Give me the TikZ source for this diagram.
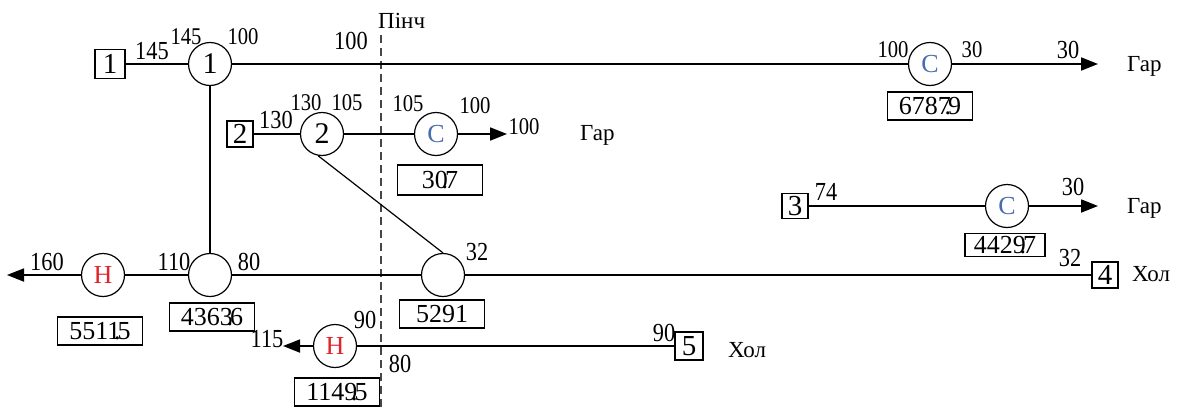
\documentclass[tikz,border=0pt]{standalone}
\usepackage{fontspec}
\setmainfont{Liberation Serif}
\newfontfamily\numfont{Liberation Serif}[FakeStretch=0.86]
\usetikzlibrary{arrows.meta}
\definecolor{cblue}{RGB}{70,110,175}
\definecolor{hred}{RGB}{225,35,45}
\definecolor{dashgray}{RGB}{70,70,70}
\tikzset{
  hx/.style={circle,draw,line width=1.2pt,minimum size=43pt,inner sep=0pt,font=\fontsize{30}{30}\selectfont},
  hxl/.style={hx,font=\fontsize{26}{26}\selectfont},
  sq/.style={draw,line width=1.4pt,minimum width=28pt,minimum height=28pt,inner sep=0pt,font=\fontsize{29}{29}\selectfont},
  val/.style={draw,line width=1.1pt,minimum width=85pt,minimum height=28pt,inner sep=0pt,font=\fontsize{26}{26}\selectfont},
  lbl/.style={inner sep=0pt,font=\numfont\fontsize{26}{26}\selectfont},
  lbs/.style={inner sep=0pt,font=\numfont\fontsize{24}{24}\selectfont},
  word/.style={inner sep=0pt,anchor=base west,font=\fontsize{23}{23}\selectfont},
  stream/.style={line width=1.8pt},
  thin/.style={line width=1.2pt},
  arr/.style={line width=1.8pt,-{Triangle[length=17pt,width=13pt]}}
}
\newcommand{\dt}[2]{#1\kern-0.24em.\kern-0.12em#2}
\begin{document}
\begin{tikzpicture}[x=1pt,y=-1pt]
\useasboundingbox (0,0) rectangle (1182,407);
% pinch line
\coordinate (pt) at (381,35);
\coordinate (pb) at (381,407);
\draw[line width=1.3pt,dashgray,dash pattern=on 8pt off 5pt] (pt) -- (pb);
\node[word] (pinch) at (378,28) {Пінч};
% stream 1
\node[sq,minimum width=30pt,minimum height=29pt] (s1) at (110,64) {1};
\node[hx] (e1) at (210,64) {1};
\node[hxl,text=cblue] (c1) at (930,64) {С};
\coordinate (a1) at (1098,64);
\draw[stream] (s1) -- (e1);
\draw[stream] (e1) -- (c1);
\draw[arr] (c1) -- (a1);
\node[word] (g1) at (1127,71) {Гар};
\node[lbl] (l1a) at (152,51) {145};
\node[lbs] (l1b) at (186,37) {145};
\node[lbs] (l1c) at (243,37) {100};
\node[lbl] (l1d) at (351,41) {100};
\node[lbs] (l1e) at (893,50) {100};
\node[lbs] (l1f) at (972,50) {30};
\node[lbl] (l1g) at (1068,50) {30};
\node[val] (v1) at (930,106) {\dt{6787}{9}};
% stream 2
\node[sq,minimum width=26pt,minimum height=26pt] (s2) at (240,134) {2};
\node[hx] (e2) at (322,134) {2};
\node[hxl,text=cblue] (c2) at (436,134) {С};
\coordinate (a2) at (507,134);
\draw[stream] (s2) -- (e2);
\draw[stream] (e2) -- (c2);
\draw[arr] (c2) -- (a2);
\node[lbl] (l2a) at (276,120) {130};
\node[lbs] (l2b) at (306,103) {130};
\node[lbs] (l2c) at (347,103) {105};
\node[lbs] (l2d) at (408,104) {105};
\node[lbs] (l2e) at (475,106) {100};
\node[lbs] (l2f) at (524,127) {100};
\node[word] (g2) at (580,140) {Гар};
\node[val,minimum height=30pt] (v2) at (440,180) {\dt{30}{7}};
% stream 3
\node[sq,minimum width=26pt,minimum height=25pt] (s3) at (795,206) {3};
\node[hxl,text=cblue] (c3) at (1007,206) {С};
\coordinate (a3) at (1098,206);
\draw[stream] (s3) -- (c3);
\draw[arr] (c3) -- (a3);
\node[lbl] (l3a) at (826,192) {74};
\node[lbl] (l3b) at (1073,187) {30};
\node[word] (g3) at (1127,213) {Гар};
\node[val,minimum width=80pt,minimum height=23pt] (v3) at (1005,245) {\dt{4429}{7}};
% stream 4
\node[sq,minimum width=26pt,minimum height=26pt] (s4) at (1105,275) {4};
\node[hx] (e4) at (443,275) {};
\node[hx] (e1b) at (210,275) {};
\node[hxl,text=hred] (h1) at (103,275) {Н};
\coordinate (a4) at (7,275);
\draw[stream] (s4) -- (e4);
\draw[stream] (e4) -- (e1b);
\draw[stream] (e1b) -- (h1);
\draw[arr] (h1) -- (a4);
\node[word] (g4) at (1132,281) {Хол};
\node[lbl] (l4a) at (1070,258) {32};
\node[lbl] (l4b) at (477,252) {32};
\node[lbl] (l4c) at (249,262) {80};
\node[lbl] (l4d) at (174,262) {110};
\node[lbl] (l4e) at (47,262) {160};
\node[val] (v4) at (442,314) {5291};
\node[val] (v5) at (212,317) {\dt{4363}{6}};
\node[val] (v6) at (100,331) {\dt{5511}{5}};
% stream 5
\node[sq] (s5) at (689,346) {5};
\node[hxl,text=hred] (h2) at (335,346) {Н};
\coordinate (a5) at (283,346);
\draw[stream] (s5) -- (h2);
\draw[arr] (h2) -- (a5);
\node[word] (g5) at (728,357) {Хол};
\node[lbl] (l5a) at (664,333) {90};
\node[lbl] (l5b) at (365,320) {90};
\node[lbl] (l5c) at (400,364) {80};
\node[lbl] (l5d) at (267,339) {115};
\node[val] (v7) at (337,392) {\dt{1149}{5}};
% cross connections
\draw[thin] (e1) -- (e1b);
\draw[thin] (e2.-100) -- (e4.north);
\end{tikzpicture}
\end{document}
